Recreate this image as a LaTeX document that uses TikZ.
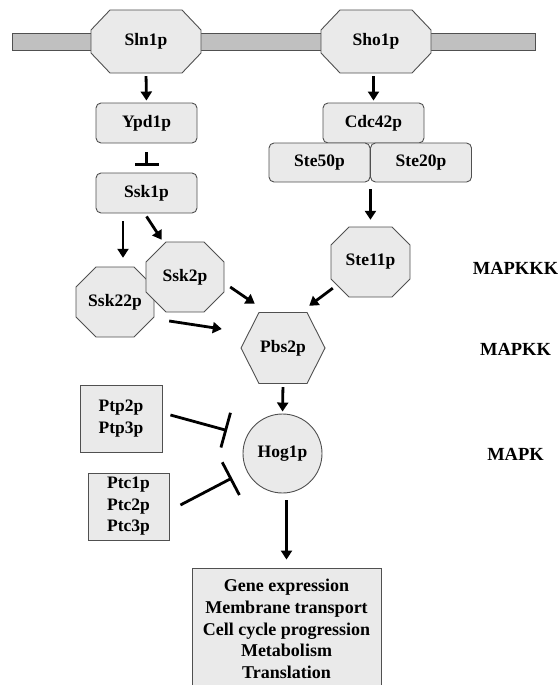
\documentclass[tikz,border=0pt]{standalone}
\usepackage{fontspec}
\setmainfont{Liberation Serif}
\usetikzlibrary{arrows.meta,calc}
\definecolor{fillg}{HTML}{EAEAEA}
\definecolor{barg}{HTML}{C0C0C0}
\definecolor{edgec}{HTML}{505050}
\newcommand\octpoly[7]{%
  \filldraw[shp] (#2-#4+#6,#3-#5) -- (#2+#4-#6,#3-#5) -- (#2+#4,#3-#5+#7) -- (#2+#4,#3+#5-#7)
    -- (#2+#4-#6,#3+#5) -- (#2-#4+#6,#3+#5) -- (#2-#4,#3+#5-#7) -- (#2-#4,#3-#5+#7) -- cycle;}
\begin{document}
\begin{tikzpicture}[x=1pt,y=-1pt,
  shp/.style={fill=fillg,draw=edgec,line width=0.9pt},
  lbl/.style={font=\bfseries\fontsize{17.5}{21.5}\selectfont,align=center,inner sep=0pt},
  big/.style={font=\bfseries\fontsize{18.5}{22}\selectfont},
  rbox/.style={lbl,shp,rounded corners=5pt,minimum width=101pt,minimum height=40pt},
  sbox/.style={lbl,shp},
  arr/.style={line width=2.8pt,-{Triangle[length=9pt,width=11pt]}},
  inh/.style={line width=2.8pt,-{Bar[width=#1]}},
]
\useasboundingbox (0,0) rectangle (559,685);
% membrane
\filldraw[fill=barg,draw=edgec,line width=0.9pt] (12,33) rectangle (535,50);
% octagons / hexagon outlines
\octpoly{sln}{146}{41.5}{55}{31.5}{19}{20}
\octpoly{sho}{376}{41.5}{55}{31.5}{19}{20}
\octpoly{ssk22}{115}{302}{39}{35}{20}{20}
\octpoly{ssk2}{185}{277}{39}{35}{20}{20}
\octpoly{ste11}{370.5}{262}{39.5}{35}{18}{18}
\filldraw[shp] (241,348) -- (259,312.5) -- (307,312.5) -- (325,348) -- (307,383.5) -- (259,383.5) -- cycle;
% nodes
\node[lbl,minimum width=110pt,minimum height=63pt] (sln) at (146,41.5) {Sln1p};
\node[lbl,minimum width=110pt,minimum height=63pt] (sho) at (376,41.5) {Sho1p};
\node[rbox] (ypd) at (146.5,123) {Ypd1p};
\node[rbox] (ssk1) at (146.5,193) {Ssk1p};
\node[rbox] (cdc) at (373.5,123) {Cdc42p};
\node[rbox,minimum height=39pt] (ste50) at (319.5,162.5) {Ste50p};
\node[rbox,minimum height=39pt] (ste20) at (421,162.5) {Ste20p};
\node[lbl,minimum width=78pt,minimum height=70pt] (ssk22) at (115,302) {Ssk22p};
\node[lbl,minimum width=78pt,minimum height=70pt] (ssk2) at (185,277) {Ssk2p};
\node[lbl,minimum width=79pt,minimum height=70pt] (ste11) at (370.5,262) {Ste11p};
\node[lbl,minimum width=84pt,minimum height=71pt] (pbs) at (283,348) {Pbs2p};
\node[lbl,shp,circle,minimum size=79pt] (hog) at (282.5,453.5) {Hog1p};
\node[sbox,minimum width=82pt,minimum height=67pt] (ptp) at (121,418.5) {Ptp2p\\Ptp3p};
\node[sbox,minimum width=81pt,minimum height=67pt] (ptc) at (128.5,506.5) {Ptc1p\\Ptc2p\\Ptc3p};
\node[sbox,font=\bfseries\fontsize{18}{21.8}\selectfont,minimum width=189pt,minimum height=122pt] (out) at (286.5,629) {Gene expression\\Membrane transport\\Cell cycle progression\\Metabolism\\Translation};
\node[lbl,big] (l3) at (515.5,268) {MAPKKK};
\node[lbl,big] (l2) at (515.5,349) {MAPKK};
\node[lbl,big] (l1) at (515.5,454) {MAPK};
% connectors
\draw[arr,shorten <=3pt,shorten >=2pt] (sln.south) -- (ypd.north);
\draw[arr,shorten <=3pt,shorten >=2pt] (sho.south -| cdc.north) -- (cdc.north);
\draw[inh=24pt,shorten <=9pt,shorten >=7pt] (ypd.south) -- (ssk1.north);
\draw[arr] ($(ssk1.south)+(-23.5,8)$) -- ($(ssk22.north)+(8,-9)$);
\draw[arr] ($(ssk1.south)+(0,3)$) -- ($(ssk2.north west)+(16,-2)$);
\draw[arr] ($(ssk2.east)+(6,10)$) -- ($(pbs.north west)+(14,-8.5)$);
\draw[arr] ($(ssk22.east)+(15,19)$) -- ($(pbs.west)+(-19,-19)$);
\draw[arr] ($(ste11.south west)+(2,-9)$) -- ($(pbs.north east)+(-16,-6.5)$);
\draw[arr,shorten <=7pt,shorten >=7pt] (ste50.south east) -- (ste50.south east |- ste11.north);
\draw[arr,shorten <=3.5pt,shorten >=2pt] (pbs.south) -- (hog.north);
\draw[arr,shorten <=7pt,shorten >=8pt] (hog.south -| out.north) -- (out.north);
\draw[inh=36pt] ($(ptp.east)+(8,-3.5)$) -- ($(hog.west)+(-15.5,-23)$);
\draw[inh=37pt] ($(ptc.east)+(11,-1.5)$) -- ($(hog.west)+(-10.5,24.5)$);
\end{tikzpicture}
\end{document}
